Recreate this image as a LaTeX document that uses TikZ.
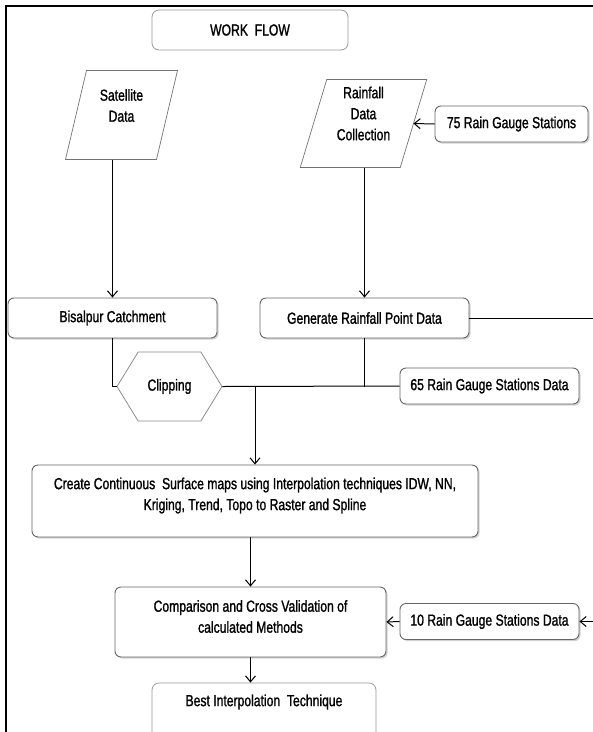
\documentclass[tikz,border=0pt]{standalone}
\usepackage{fontspec}
\setmainfont[FakeStretch=0.76,FakeBold=1.2]{Liberation Sans}
\usetikzlibrary{arrows.meta,shapes.symbols,shadows}

\begin{document}
\begin{tikzpicture}[x=1pt,y=-1pt,>={Straight Barb[length=6pt,width=10pt]},line width=1pt,
	font=\fontsize{16}{21}\selectfont,
	box/.style={draw=black!60,rounded corners=6pt,line width=0.9pt,fill=white,align=center,inner sep=0pt,
		drop shadow={shadow xshift=1.6pt,shadow yshift=-1.6pt,opacity=0.35}},
	plain/.style={draw=black!40,rounded corners=7pt,line width=0.8pt,fill=white,align=center,inner sep=0pt},
	data/.style={inner sep=0pt,align=center},
	hexa/.style={signal,signal to=west and east,draw=black!45,line width=0.8pt,inner sep=0pt},
	txt/.style={align=center}]
				\useasboundingbox (0,0) rectangle (593,732);
				\draw[line width=2.5pt] (6,732) -- (6,6) -- (593,6);
				
				\node[plain,minimum width=196,minimum height=40] (wf) at (250,30) {WORK\ \ FLOW};
				\node[data,minimum width=90,minimum height=88,
					label={[txt,yshift=9.5]center:Satellite\\Data}] (sat) at (121.5,115) {};
				\node[data,minimum width=99,minimum height=87,
					label={[txt,yshift=10]center:Rainfall\\Data\\Collection}] (rain) at (363.5,123.5) {};
				\foreach \n/\s in {sat/10.5,rain/13.25}
					\draw[black!55,line width=0.7pt] ([xshift=-\s pt]\n.south west) -- ([xshift=-\s pt]\n.south east)
						-- ([xshift=\s pt]\n.north east) -- ([xshift=\s pt]\n.north west) -- cycle;
				
				\foreach \n/\x/\y/\w/\t in
					{g75/511.5/124/153/75 Rain Gauge Stations,
					g65/489.5/386/179/65 Rain Gauge Stations Data,
					g10/489.5/621.5/179/10 Rain Gauge Stations Data}
					\node[box,minimum width=\w,minimum height=36] (\n) at (\x,\y) {\t};
				
				\node[box,minimum width=209,minimum height=40] (bis) at (112.5,318) {Bisalpur Catchment};
				\node[box,minimum width=209,minimum height=40] (gen) at (364.5,318) {Generate Rainfall Point Data};
				\node[hexa,signal pointer angle=117,minimum width=105,minimum height=69] (clip) at (169.5,386.5) {Clipping};
				\node[box,minimum width=446,minimum height=72,
					label={[txt,yshift=5.5]center:Create Continuous\ \ Surface maps using Interpolation techniques IDW, NN,\\Kriging, Trend, Topo to Raster and Spline}] (create) at (255,501) {};
				\node[box,minimum width=271,minimum height=70,
					label={[txt,yshift=5.5]center:Comparison and Cross Validation of\\calculated Methods}] (cmp) at (250.5,622) {};
				\node[plain,minimum width=224,minimum height=67,
					label={[txt,yshift=14.5]center:Best Interpolation\ \ Technique}] (best) at (264,716.5) {};
				
				\coordinate (rimA) at (593,318);
				\coordinate (rimB) at (593,621.5);
				
				\draw[->] (sat.south -| bis.north) -- (bis.north);
				\draw[->] (rain.south -| gen.north) -- (gen.north);
				\draw[->] (g75.west) -- (rain.east);
				\draw (gen.east) -- (rimA);
				\draw (bis.south) |- (clip.west);
				\draw (clip.east) -- (g65.west);
				\draw (gen.south) -- (gen.south |- clip.east);
				\draw[->] (create.north |- clip.east) -- (create.north);
				\draw[->] (cmp.north |- create.south) -- (cmp.north);
				\draw[->] (cmp.south) -- (cmp.south |- best.north);
				\draw[->] (g10.west) -- (cmp.east);
				\draw[->] (rimB) -- (g10.east);
\end{tikzpicture}
\end{document}
